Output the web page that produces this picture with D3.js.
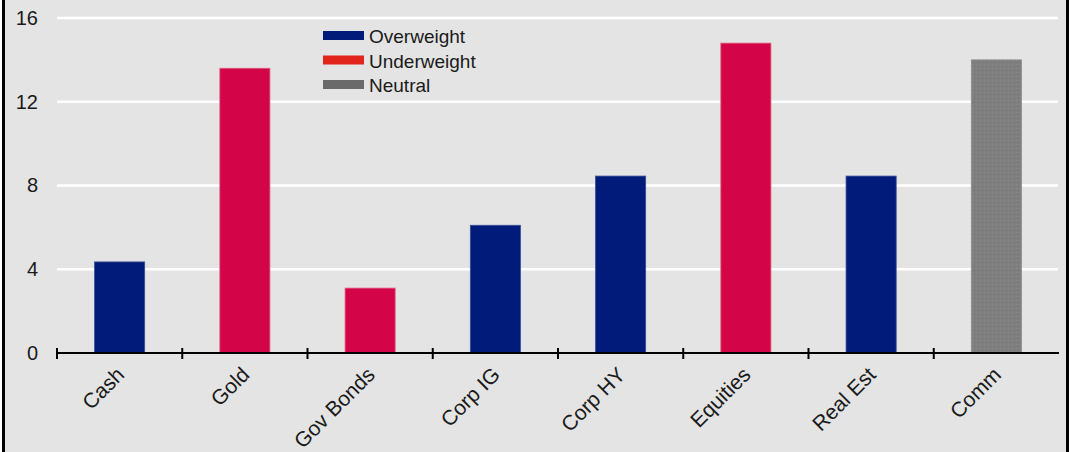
<!DOCTYPE html>
<html>
<head>
<meta charset="utf-8">
<script src="https://cdn.jsdelivr.net/npm/d3@7"></script>
<style>
  html, body { margin: 0; padding: 0; background: #e4e4e4; overflow: hidden; }
  svg { display: block; font-family: "Liberation Sans", Arial, sans-serif; }
</style>
</head>
<body>
<svg id="chart"></svg>
<script>
// data
const categories = ["Cash", "Gold", "Gov Bonds", "Corp IG", "Corp HY", "Equities", "Real Est", "Comm"];
const values = [4.35, 13.6, 3.1, 6.1, 8.45, 14.8, 8.45, 14.0];
const positions = ["Overweight", "Underweight", "Underweight", "Overweight", "Overweight", "Underweight", "Overweight", "Neutral"];
const yTicks = [0, 4, 8, 12, 16];
const legendItems = ["Overweight", "Underweight", "Neutral"];

// colours
const barColor = { Overweight: "#001b79", Underweight: "#d30447", Neutral: "#7f7f7f" };
const barEdge = { Overweight: "#3b4c94", Underweight: "#e0607f", Neutral: "#8c8c8c" };
const legendColor = { Overweight: "#001b79", Underweight: "#e2251c", Neutral: "#6a6a6a" };

// chart dimensions
const width = 1069;
const height = 452;
const plotLeft = 57;
const plotRight = 1059;
const plotTop = 18;
const plotBottom = 353;

const svg = d3.select("#chart")
  .attr("width", width)
  .attr("height", height);

svg.append("rect")
  .attr("width", width)
  .attr("height", height)
  .attr("fill", "#e4e4e4");

// frame edges
svg.append("rect").attr("x", 0).attr("y", 0).attr("width", 2).attr("height", height).attr("fill", "#ffffff");
svg.append("rect").attr("x", 2).attr("y", 0).attr("width", 3).attr("height", height).attr("fill", "#000");
svg.append("rect").attr("x", 1066).attr("y", 0).attr("width", 3).attr("height", height).attr("fill", "#000");

const x = d3.scaleBand(categories, [plotLeft, plotRight])
  .paddingInner(0.6)
  .paddingOuter(0.3);

const y = d3.scaleLinear([0, 16], [plotBottom, plotTop]);

// white gridlines
svg.append("g")
  .selectAll("line")
  .data(yTicks.filter(d => d > 0))
  .join("line")
    .attr("x1", plotLeft)
    .attr("x2", plotRight - 1)
    .attr("y1", d => y(d))
    .attr("y2", d => y(d))
    .attr("stroke", "#ffffff")
    .attr("stroke-width", 2.5);

// y labels
svg.append("g")
  .attr("transform", `translate(38,0)`)
  .call(d3.axisLeft(y).tickValues(yTicks).tickSize(0).tickPadding(0))
  .call(g => g.select(".domain").remove())
  .call(g => g.selectAll("text")
    .attr("font-size", 20)
    .attr("font-family", "Liberation Sans, Arial, sans-serif")
    .attr("fill", "#1a1a1a"));

// bars
const textureId = "neutralTexture";
const defs = svg.append("defs");
const pat = defs.append("pattern")
  .attr("id", textureId)
  .attr("patternUnits", "userSpaceOnUse")
  .attr("width", 4)
  .attr("height", 4);
pat.append("rect").attr("width", 4).attr("height", 4).attr("fill", "#7f7f7f");
pat.append("rect").attr("x", 0).attr("y", 0).attr("width", 1).attr("height", 1).attr("fill", "#8a8a8a");
pat.append("rect").attr("x", 2).attr("y", 2).attr("width", 1).attr("height", 1).attr("fill", "#747474");

svg.append("g")
  .selectAll("rect")
  .data(categories)
  .join("rect")
    .attr("x", d => x(d))
    .attr("y", (d, i) => y(values[i]))
    .attr("width", x.bandwidth())
    .attr("height", (d, i) => y(0) - y(values[i]))
    .attr("fill", (d, i) => positions[i] === "Neutral" ? `url(#${textureId})` : barColor[positions[i]])
    .attr("stroke", (d, i) => barEdge[positions[i]])
    .attr("stroke-width", 0.8);

// x axis: baseline with ticks at band edges
const gap = (x.step() - x.bandwidth()) / 2;
const xAxis = svg.append("g");
xAxis.append("line")
  .attr("x1", plotLeft - 1)
  .attr("x2", plotRight)
  .attr("y1", y(0))
  .attr("y2", y(0))
  .attr("stroke", "#000")
  .attr("stroke-width", 2.2);

xAxis.selectAll(".edge")
  .data(categories)
  .join("line")
    .attr("class", "edge")
    .attr("x1", d => x(d) - gap)
    .attr("x2", d => x(d) - gap)
    .attr("y1", y(0) - 5)
    .attr("y2", y(0) + 6)
    .attr("stroke", "#000")
    .attr("stroke-width", 2);

xAxis.selectAll(".lbl")
  .data(categories)
  .join("text")
    .attr("class", "lbl")
    .attr("transform", d => `translate(${x(d) + x.bandwidth() / 2 + 6},${y(0) + 23}) rotate(-45)`)
    .attr("text-anchor", "end")
    .attr("font-size", 21)
    .attr("fill", "#1a1a1a")
    .text(d => d);

// legend
const legend = svg.append("g")
  .attr("transform", "translate(323,36)");

const rows = legend.selectAll("g")
  .data(legendItems)
  .join("g")
    .attr("transform", (d, i) => `translate(0,${i * 24.5})`);

rows.append("rect")
  .attr("x", 0)
  .attr("y", -5)
  .attr("width", 41)
  .attr("height", 9)
  .attr("fill", d => legendColor[d]);

rows.append("text")
  .attr("x", 46)
  .attr("y", 7)
  .attr("font-size", 19)
  .attr("fill", "#1a1a1a")
  .text(d => d);
</script>
</body>
</html>
